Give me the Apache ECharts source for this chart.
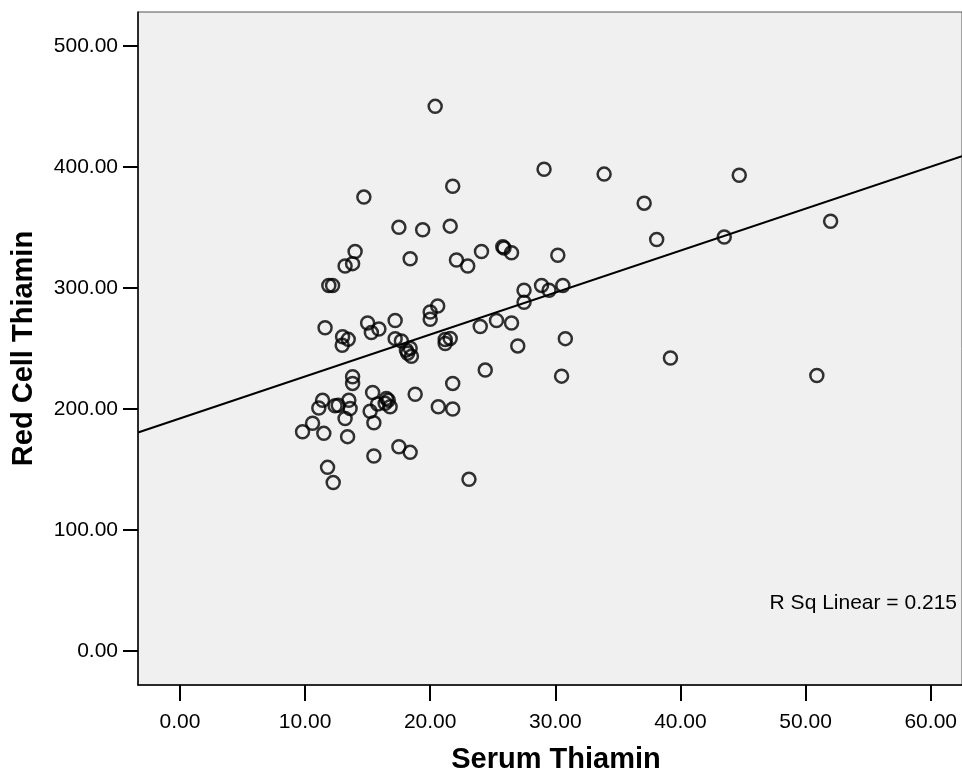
<!DOCTYPE html>
<html>
<head>
<meta charset="utf-8">
<title>Serum vs Red Cell Thiamin</title>
<script src="https://cdn.jsdelivr.net/npm/echarts@6/dist/echarts.min.js"></script>
<style>
  html, body { margin: 0; padding: 0; background: #ffffff; }
  #chart { width: 962px; height: 773px; }
</style>
</head>
<body>
<div id="chart"></div>
<script>
// Serum thiamin (x) for each subject
const serumThiamin = [
  20.4, 29.1, 33.9, 14.7, 21.8, 17.5, 19.4, 21.6, 14.0, 13.8,
  13.2, 18.4, 22.1, 23.0, 24.1, 25.8, 25.9, 26.5, 30.2, 11.9,
  12.2, 27.5, 28.9, 29.5, 30.6, 27.5, 20.6, 20.0, 20.0, 17.2,
  15.0, 11.6, 15.9, 15.3, 13.0, 13.45, 12.97, 17.2, 17.7, 18.1,
  18.4, 18.5, 18.2, 21.2, 21.6, 21.2, 24.0, 25.3, 26.5, 27.0,
  30.8, 24.4, 30.5, 21.8, 13.8, 13.8, 15.4, 18.8, 11.4, 11.1,
  12.65, 12.4, 13.5, 13.6, 16.5, 16.65, 16.8, 16.4, 15.8, 15.2,
  10.6, 9.8, 11.5, 13.2, 13.4, 15.5, 20.65, 21.8, 15.5, 17.5,
  18.4, 11.8, 12.25, 23.1, 44.7, 37.1, 38.1, 43.5, 52.0, 39.2,
  50.9
];

// Red cell thiamin (y) for the same subjects, in the same order
const redCellThiamin = [
  450, 398, 394, 375, 384, 350, 348, 351, 330, 320,
  318, 324, 323, 318, 330, 334, 333, 329, 327, 302,
  302, 298, 302, 298, 302, 288, 285, 280, 274, 273,
  271, 267, 266, 263, 259.5, 257.4, 252.6, 258, 256, 248.5,
  250, 243.5, 246, 257.3, 258.2, 254, 268, 273, 271, 252,
  258, 232, 227, 221, 226.5, 221, 213.5, 212, 207, 200.6,
  203, 202.5, 207, 200.3, 208.6, 207, 201.7, 204.5, 204, 198,
  188, 181, 179.7, 192, 177, 188.4, 201.7, 199.8, 161, 168.6,
  164, 151.6, 139, 141.7, 393, 370, 340, 342, 355, 242,
  227.6
];

// Linear fit: Red Cell Thiamin = intercept + slope * Serum Thiamin
const fitIntercept = 192;
const fitSlope = 3.47;
const fitLabel = 'R Sq Linear = 0.215';

// Axis tick positions
const xTicks = [0, 10, 20, 30, 40, 50, 60];
const yTicks = [0, 100, 200, 300, 400, 500];

// Visible data window of the plot frame
const xRange = [-3.35, 62.5];
const yRange = [-28.3, 528];

const FONT = 'Liberation Sans, Arial, Helvetica, sans-serif';

const points = serumThiamin.map((x, i) => [x, redCellThiamin[i]]);
const fitLine = xRange.map(x => [x, fitIntercept + fitSlope * x]);

const chart = echarts.init(document.getElementById('chart'), null, { renderer: 'canvas' });

chart.setOption({
  animation: false,
  backgroundColor: '#ffffff',
  grid: {
    left: 138, top: 12, right: 0, bottom: 88,
    outerBoundsMode: 'none',
    containLabel: false,
    show: true,
    backgroundColor: '#f0f0f0',
    borderColor: '#555555',
    borderWidth: 1
  },
  xAxis: {
    type: 'value',
    min: xRange[0], max: xRange[1],
    splitLine: { show: false },
    axisLine: { show: true, onZero: false, lineStyle: { color: '#000', width: 1.5 } },
    axisTick: { show: true, customValues: xTicks, length: 16, lineStyle: { color: '#000', width: 2 } },
    axisLabel: {
      customValues: xTicks,
      margin: 27,
      color: '#000',
      fontSize: 21,
      fontFamily: FONT,
      formatter: v => Number(v).toFixed(2)
    },
    name: 'Serum Thiamin',
    nameLocation: 'middle',
    nameGap: 60,
    nameTextStyle: {
      color: '#000', fontSize: 29, fontWeight: 'bold', fontFamily: FONT,
      padding: [0, 0, 0, 12]
    }
  },
  yAxis: {
    type: 'value',
    min: yRange[0], max: yRange[1],
    splitLine: { show: false },
    axisLine: { show: true, onZero: false, lineStyle: { color: '#000', width: 1.5 } },
    axisTick: { show: true, customValues: yTicks, length: 15, lineStyle: { color: '#000', width: 2 } },
    axisLabel: {
      customValues: yTicks,
      margin: 20,
      color: '#000',
      fontSize: 21,
      fontFamily: FONT,
      formatter: v => Number(v).toFixed(2)
    },
    name: 'Red Cell Thiamin',
    nameLocation: 'middle',
    nameGap: 100,
    nameTextStyle: { color: '#000', fontSize: 29, fontWeight: 'bold', fontFamily: FONT }
  },
  graphic: [{
    type: 'text',
    right: 5,
    top: 593,
    style: { text: fitLabel, fill: '#000', font: '21px ' + FONT }
  }],
  series: [
    {
      type: 'line',
      data: fitLine,
      symbol: 'none',
      silent: true,
      lineStyle: { color: '#000', width: 2 },
      z: 2
    },
    {
      type: 'scatter',
      data: points,
      symbol: 'circle',
      symbolSize: 13,
      itemStyle: { color: 'rgba(0,0,0,0)', borderColor: '#000', borderWidth: 2.5 },
      z: 3
    }
  ]
});
</script>
</body>
</html>
